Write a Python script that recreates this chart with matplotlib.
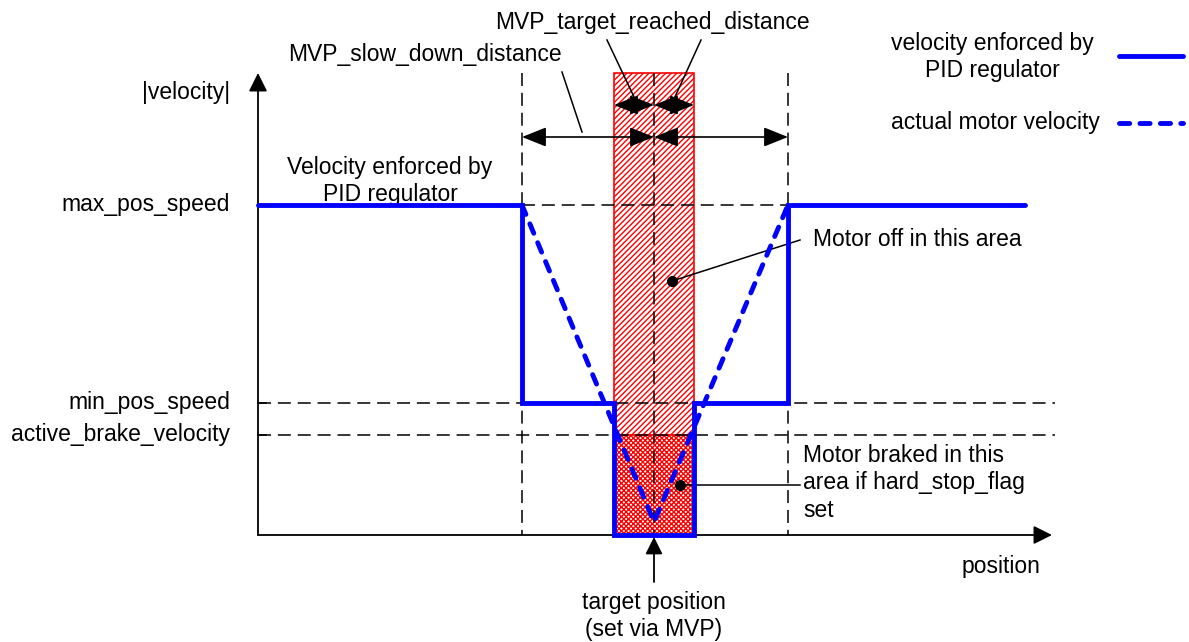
import numpy as np
import matplotlib.pyplot as plt

plt.rcParams['font.family'] = ['Liberation Sans', 'DejaVu Sans']
plt.rcParams['hatch.linewidth'] = 1.0

# diagram positions (pixel-like units, y grows downwards)
x_start, x_end = 258, 1025
x_slow = [522, 788]
x_reach = [614, 694]
x_target = 654

y_levels = {"max_pos_speed": 205, "min_pos_speed": 403, "active_brake_velocity": 435}
y_zero = 535
y_vmin = 522
y_top = 73

# velocity enforced by PID regulator
pid_x = [x_start, x_slow[0], x_slow[0], x_reach[0], x_reach[0], x_reach[1], x_reach[1], x_slow[1], x_slow[1], x_end]
pid_y = [205, 205, 403, 403, 535, 535, 403, 403, 205, 205]

# actual motor velocity
act_x = [x_slow[0], x_target, x_slow[1]]
act_y = [205, y_vmin, 205]

FS = 16.5
fig = plt.figure(figsize=(11.89, 6.42), dpi=100)
ax = fig.add_axes([0, 0, 1, 1])
ax.set_xlim(0, 1189)
ax.set_ylim(642, 0)
ax.axis('off')

# red hatched zone
ax.add_patch(plt.Rectangle((x_reach[0], y_top), x_reach[1] - x_reach[0], 435 - y_top,
                           facecolor='white', edgecolor='red', hatch='//////', lw=1.2, zorder=1))
ax.add_patch(plt.Rectangle((x_reach[0], 435), x_reach[1] - x_reach[0], y_zero - 435,
                           facecolor='white', edgecolor='red', hatch='xxxxxxx', lw=1.2, zorder=1))

# dashed guides
dash = dict(color='black', lw=1.1, ls=(0, (8.5, 4.5)), zorder=2)
for xv in x_slow + [x_target]:
    ax.plot([xv, xv], [y_top, y_zero], **dash)
ax.plot([x_slow[0], x_slow[1]], [205, 205], **dash)
ax.plot([x_start, 1055], [403, 403], **dash)
ax.plot([x_start, 1055], [435, 435], **dash)

# axes
ax.annotate('', xy=(x_start, y_top), xytext=(x_start, y_zero),
            arrowprops=dict(arrowstyle='-|>', color='black', lw=1.3, mutation_scale=28, shrinkA=0, shrinkB=0))
ax.annotate('', xy=(1052, y_zero), xytext=(x_start, y_zero),
            arrowprops=dict(arrowstyle='-|>', color='black', lw=1.3, mutation_scale=28, shrinkA=0, shrinkB=0))
for yv in [403, 435]:
    ax.plot([x_start, x_start + 8], [yv, yv], color='black', lw=1.1)

# curves
blue_dash = (0, (2.1, 2.1))
ax.plot(pid_x, pid_y, color='blue', lw=3.5, solid_joinstyle='miter', solid_capstyle='round', zorder=4)
ax.plot(act_x, act_y, color='blue', lw=3.5, ls=blue_dash, dash_capstyle='round', zorder=4)

# distance arrows
dbl = dict(arrowstyle='<|-|>,head_length=0.5,head_width=0.2', color='black', lw=1.2,
           mutation_scale=30, shrinkA=0, shrinkB=0)
for a, b in [(x_slow[0], x_target), (x_target, x_slow[1])]:
    ax.annotate('', xy=(a, 137), xytext=(b, 137), arrowprops=dbl)
for a, b in [(x_reach[0], x_target), (x_target, x_reach[1])]:
    ax.annotate('', xy=(a, 105), xytext=(b, 105), arrowprops=dbl)

# labels
ax.text(652, 22, 'MVP_target_reached_distance', fontsize=FS, ha='center', va='center')
ax.plot([607, 635], [40, 99], color='black', lw=1.1)
ax.plot([701, 674], [40, 99], color='black', lw=1.1)
ax.text(425, 55, 'MVP_slow_down_distance', fontsize=FS, ha='center', va='center')
ax.plot([562, 582], [72, 132], color='black', lw=1.1)

ax.text(230, 92, '|velocity|', fontsize=FS, ha='right', va='center')
for name, yv in y_levels.items():
    ax.text(230, yv, name, fontsize=FS, ha='right', va='center')

ax.text(390, 181, 'Velocity enforced by\nPID regulator', fontsize=FS, ha='center', va='center',
        linespacing=1.25)

ax.text(813, 240, 'Motor off in this area', fontsize=FS, ha='left', va='center')
ax.plot([672, 800], [281, 240], color='black', lw=1.1)
ax.plot(672, 281, 'o', color='black', ms=7)

ax.text(803, 483, 'Motor braked in this\narea if hard_stop_flag\nset', fontsize=FS, ha='left', va='center',
        linespacing=1.25)
ax.plot([680, 800], [485, 485], color='black', lw=1.1)
ax.plot(680, 485, 'o', color='black', ms=7, zorder=5)

ax.annotate('', xy=(x_target, 537), xytext=(x_target, 582),
            arrowprops=dict(arrowstyle='-|>', color='black', lw=1.3, mutation_scale=26, shrinkA=0, shrinkB=0))
ax.text(x_target, 616, 'target position\n(set via MVP)', fontsize=FS, ha='center', va='center',
        linespacing=1.25)
ax.text(1001, 567, 'position', fontsize=FS, ha='center', va='center')

# legend
ax.text(992, 57, 'velocity enforced by\nPID regulator', fontsize=FS, ha='center', va='center',
        linespacing=1.25)
ax.plot([1119, 1183], [56, 56], color='blue', lw=3.5, solid_capstyle='round')
ax.text(1100, 123, 'actual motor velocity', fontsize=FS, ha='right', va='center')
ax.plot([1119, 1183], [123, 123], color='blue', lw=3.5, ls=blue_dash, dash_capstyle='round')

fig.savefig('out.png', dpi=100)
